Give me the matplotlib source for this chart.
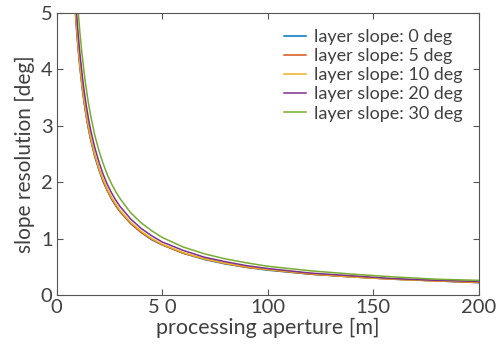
import matplotlib
matplotlib.use("Agg")
import matplotlib.pyplot as plt

# processing aperture [m]
aperture = [8, 8.5, 9, 9.5, 10, 10.5, 11, 12, 13, 14, 15, 16, 18, 20, 22, 24, 26, 28,
            30, 35, 40, 45, 50, 60, 70, 80, 90, 100, 120, 140, 160, 180, 200]

# slope resolution [deg] for each layer slope
res_0 = [5.54, 5.21, 4.92, 4.66, 4.43, 4.22, 4.03, 3.69, 3.41, 3.16, 2.95, 2.77, 2.46,
         2.22, 2.01, 1.85, 1.70, 1.58, 1.48, 1.27, 1.11, 0.98, 0.89, 0.74, 0.63, 0.55,
         0.49, 0.44, 0.37, 0.32, 0.28, 0.25, 0.22]
res_5 = [5.56, 5.24, 4.94, 4.68, 4.45, 4.24, 4.05, 3.71, 3.42, 3.18, 2.97, 2.78, 2.47,
         2.23, 2.02, 1.85, 1.71, 1.59, 1.48, 1.27, 1.11, 0.99, 0.89, 0.74, 0.64, 0.56,
         0.49, 0.45, 0.37, 0.32, 0.28, 0.25, 0.22]
res_10 = [5.63, 5.29, 5.00, 4.74, 4.50, 4.29, 4.09, 3.75, 3.46, 3.21, 3.00, 2.81, 2.50,
          2.25, 2.05, 1.88, 1.73, 1.61, 1.50, 1.29, 1.13, 1.00, 0.90, 0.75, 0.64, 0.56,
          0.50, 0.45, 0.38, 0.32, 0.28, 0.25, 0.23]
res_20 = [5.89, 5.54, 5.23, 4.96, 4.71, 4.49, 4.28, 3.93, 3.62, 3.36, 3.14, 2.94, 2.62,
          2.36, 2.14, 1.96, 1.81, 1.68, 1.57, 1.35, 1.18, 1.05, 0.94, 0.79, 0.67, 0.59,
          0.52, 0.47, 0.39, 0.34, 0.29, 0.26, 0.24]
res_30 = [6.40, 6.02, 5.69, 5.39, 5.12, 4.88, 4.65, 4.27, 3.94, 3.66, 3.41, 3.20, 2.84,
          2.56, 2.33, 2.13, 1.97, 1.83, 1.71, 1.46, 1.28, 1.14, 1.02, 0.85, 0.73, 0.64,
          0.57, 0.51, 0.43, 0.37, 0.32, 0.28, 0.26]

labels = ["layer slope: 0 deg", "layer slope: 5 deg", "layer slope: 10 deg",
          "layer slope: 20 deg", "layer slope: 30 deg"]
colors = ["#0072BD", "#D95319", "#EDB120", "#7E2F8E", "#77AC30"]

xticks = [0, 50, 100, 150, 200]
xticklabels = ["0", "5 0", "100", "150", "200"]
yticks = [0, 1, 2, 3, 4, 5]

plt.rcParams['font.family'] = ['Lato', 'DejaVu Sans']
text_col = "#404040"

fig = plt.figure(figsize=(5.04, 3.51), dpi=100)
ax = fig.add_axes([0.1125, 0.1595, 0.8375, 0.8035])

for ys, lab, c in zip([res_0, res_5, res_10, res_20, res_30], labels, colors):
    ax.plot(aperture, ys, color=c, lw=1.1, label=lab)

ax.set_xlim(0, 200)
ax.set_ylim(0, 5)
ax.set_xticks(xticks)
ax.set_xticklabels(xticklabels)
ax.set_yticks(yticks)
ax.tick_params(direction="in", top=True, right=True, length=4, width=0.8,
               colors="#555555", labelcolor=text_col, labelsize=14.5, pad=3)
for sp in ax.spines.values():
    sp.set_color("#555555")
    sp.set_linewidth(0.8)

ax.set_xlabel("processing aperture [m]", fontsize=15.5, color=text_col, labelpad=1)
ax.set_ylabel("slope resolution [deg]", fontsize=15, color=text_col, labelpad=4)

leg = ax.legend(loc="upper right", frameon=False, fontsize=13, handlelength=1.2,
                handletextpad=0.45, labelspacing=0.17, borderaxespad=0.5)
for t in leg.get_texts():
    t.set_color(text_col)

fig.savefig("out.png", dpi=100)
